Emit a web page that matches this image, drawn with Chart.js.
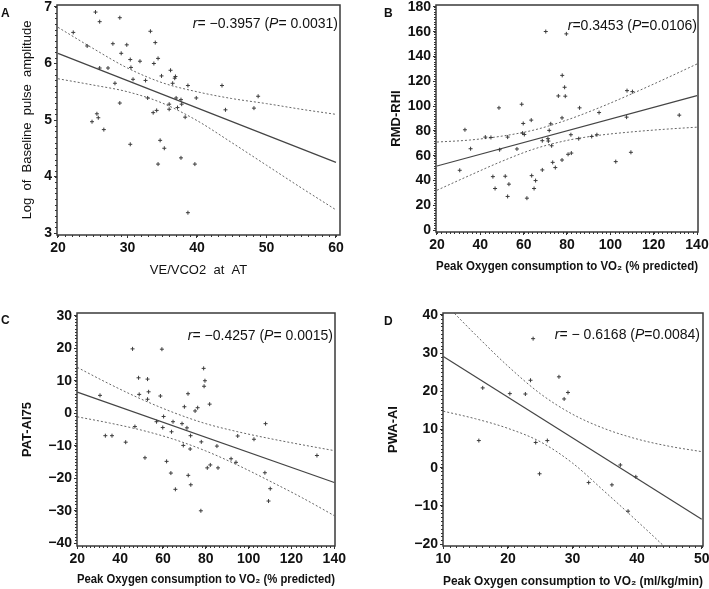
<!DOCTYPE html>
<html>
<head>
<meta charset="utf-8">
<script src="https://cdn.jsdelivr.net/npm/chart.js@4.4.1/dist/chart.umd.min.js"></script>
<style>
  body { margin: 0; background: #fff; }
  #fig { position: relative; width: 709px; height: 589px; background: #fff; overflow: hidden;
         font-family: "Liberation Sans", Arial, Helvetica, sans-serif; color: #111; }
  #fig canvas { position: absolute; }
  .tag { position: absolute; font-size: 12px; font-weight: bold; line-height: 1; }
  .stat { position: absolute; font-size: 14px; line-height: 1; white-space: nowrap; }
</style>
</head>
<body>
<div id="fig">
  <canvas id="panelA" width="354" height="290" style="left:0;top:0"></canvas>
  <canvas id="panelB" width="355" height="290" style="left:354px;top:0"></canvas>
  <canvas id="panelC" width="354" height="299" style="left:0;top:290px"></canvas>
  <canvas id="panelD" width="355" height="299" style="left:354px;top:290px"></canvas>

  <div class="tag" style="left:1px;top:7px">A</div>
  <div class="tag" style="left:384px;top:7px">B</div>
  <div class="tag" style="left:1px;top:314px">C</div>
  <div class="tag" style="left:384px;top:315px">D</div>

  <div class="stat" style="right:371px;top:16px"><i>r</i>= −0.3957 (<i>P</i>= 0.0031)</div>
  <div class="stat" style="right:12px;top:18px"><i>r</i>=0.3453 (<i>P</i>=0.0106)</div>
  <div class="stat" style="right:376px;top:328px"><i>r</i>= −0.4257 (<i>P</i>= 0.0015)</div>
  <div class="stat" style="right:9px;top:327px"><i>r</i>= − 0.6168 (<i>P</i>=0.0084)</div>
</div>

<script>
// ---- panel A: log baseline pulse amplitude vs VE/VCO2 at AT
const aX = [25.4, 26.0, 28.9, 22.2, 33.3, 34.0, 24.2, 27.9, 29.9, 29.1, 34.4, 30.4, 31.8, 33.8, 30.5, 26.0, 27.2, 36.2,
  34.9, 36.9, 36.8, 32.6, 30.8, 36.5, 28.2, 38.7, 43.6, 48.8, 39.9, 32.9, 37.0, 37.7, 28.9, 36.0, 37.8, 37.2, 48.2,
  44.1, 36.0, 34.2, 33.7, 25.6, 25.8, 24.9, 38.3, 26.6, 34.7, 30.4, 35.3, 37.7, 34.4, 39.7, 38.7];
const aY = [6.91, 6.74, 6.81, 6.55, 6.57, 6.37, 6.31, 6.35, 6.33, 6.18, 6.09, 6.07, 6.04, 6.00, 5.93, 5.92, 5.92, 5.88,
  5.78, 5.77, 5.74, 5.70, 5.72, 5.65, 5.65, 5.61, 5.61, 5.42, 5.39, 5.39, 5.39, 5.36, 5.30, 5.28, 5.28, 5.22, 5.21,
  5.18, 5.19, 5.17, 5.13, 5.11, 5.04, 4.97, 5.05, 4.83, 4.64, 4.57, 4.50, 4.33, 4.22, 4.22, 3.36];
const aFitX = [20, 60];
const aFitY = [6.18, 4.25];
const aBandX = [20, 25, 30, 35, 40, 45, 50, 55, 60];
const aUpper = [6.64, 6.27, 5.92, 5.66, 5.50, 5.38, 5.29, 5.19, 5.10];
const aLower = [5.73, 5.62, 5.50, 5.30, 4.99, 4.60, 4.20, 3.80, 3.41];
const aXTicks = [20, 30, 40, 50, 60];
const aYTicks = [3, 4, 5, 6, 7];

// ---- panel B: RMD-RHI vs peak VO2 (% predicted)
const bX = [70.2, 79.7, 77.8, 78.9, 76.0, 79.2, 107.7, 110.2, 59.1, 48.6, 85.8, 94.8, 131.8, 77.7, 107.5, 63.5, 59.8,
  72.5, 32.9, 71.8, 59.5, 60.3, 81.8, 93.8, 42.3, 44.9, 52.6, 91.4, 71.2, 85.4, 68.6, 71.4, 72.9, 35.5, 48.9, 56.9,
  80.5, 82.0, 109.5, 73.4, 77.7, 102.5, 30.5, 68.6, 74.6, 45.8, 51.5, 63.7, 65.5, 53.2, 46.8, 64.8, 52.6, 61.5];
const bY = [160.2, 158.3, 124.8, 115.2, 108.2, 108.0, 112.5, 111.7, 101.5, 98.6, 98.6, 94.8, 92.7, 90.5, 91.1, 88.7,
  86.0, 85.7, 80.9, 80.4, 78.2, 77.1, 76.9, 76.9, 75.0, 74.7, 75.0, 75.5, 73.7, 73.7, 72.1, 71.8, 68.0, 65.6, 64.8,
  65.4, 61.1, 62.1, 62.7, 54.6, 56.5, 55.2, 48.2, 48.5, 50.4, 43.1, 43.4, 43.9, 39.9, 37.0, 33.5, 33.5, 27.1, 25.7];
const bFitX = [20, 140];
const bFitY = [51.7, 108.5];
const bBandX = [20, 35, 50, 65, 80, 95, 110, 125, 140];
const bUpper = [71.0, 72.6, 75.8, 80.8, 88.8, 98.8, 110.0, 121.8, 134.0];
const bLower = [32.1, 44.0, 55.5, 65.5, 72.3, 76.5, 79.2, 81.3, 83.0];
const bXTicks = [20, 40, 60, 80, 100, 120, 140];
const bYTicks = [0, 20, 40, 60, 80, 100, 120, 140, 160, 180];

// ---- panel C: PAT-AI75 vs peak VO2 (% predicted)
const cX = [45.8, 59.5, 79.0, 48.6, 52.8, 79.6, 79.2, 53.3, 71.7, 48.9, 30.6, 58.8, 52.8, 81.8, 70.0, 76.2, 75.0, 60.3,
  57.0, 64.7, 68.9, 107.9, 46.9, 59.9, 71.2, 64.0, 72.9, 33.1, 36.2, 94.9, 102.5, 42.6, 77.9, 69.5, 85.2, 72.7, 51.6,
  131.9, 91.8, 94.1, 61.7, 82.1, 80.7, 85.7, 63.7, 107.6, 71.8, 73.0, 110.1, 65.8, 109.3, 77.7];
const cY = [19.8, 19.7, 13.8, 10.9, 10.5, 10.0, 8.3, 6.6, 6.0, 5.8, 5.5, 5.3, 4.3, 2.8, 2.0, 1.7, 0.7, -1.0, -2.6, -2.6,
  -3.2, -3.2, -4.1, -4.4, -4.5, -5.7, -6.9, -6.9, -6.9, -7.0, -8.0, -8.9, -8.8, -9.9, -10.1, -11.0, -13.7, -13.0,
  -14.0, -15.1, -14.8, -15.9, -16.8, -16.8, -18.4, -18.3, -19.1, -22.0, -23.2, -23.4, -27.0, -30.0];
const cFitX = [20, 140];
const cFitY = [6.5, -21.3];
const cBandX = [20, 35, 50, 65, 80, 95, 110, 125, 140];
const cUpper = [14.1, 9.0, 4.3, 0.2, -3.2, -5.7, -7.8, -9.7, -11.5];
const cLower = [-1.1, -3.0, -5.2, -8.0, -11.6, -16.0, -20.9, -26.0, -31.5];
const cXTicks = [20, 40, 60, 80, 100, 120, 140];
const cYTicks = [-40, -30, -20, -10, 0, 10, 20, 30];

// ---- panel D: PWA-AI vs peak VO2 (ml/kg/min)
const dX = [23.9, 27.9, 23.5, 16.1, 29.3, 20.3, 22.7, 28.7, 15.5, 26.1, 24.3, 37.4, 39.8, 24.9, 32.5, 36.1, 38.6];
const dY = [33.8, 23.8, 22.9, 20.9, 19.7, 19.4, 19.3, 18.0, 7.1, 7.1, 6.6, 0.7, -2.4, -1.6, -3.9, -4.5, -11.4];
const dFitX = [10, 50];
const dFitY = [29.1, -13.5];
const dBandX = [10, 15, 20, 25, 30, 35, 40, 45, 50];
const dUpper = [43.4, 34.8, 26.6, 19.4, 14.0, 10.2, 7.5, 5.6, 4.2];
const dLower = [14.8, 12.8, 10.3, 6.8, 1.2, -6.3, -14.0, -22.0, -31.0];
const dXTicks = [10, 20, 30, 40, 50];
const dYTicks = [-20, -10, 0, 10, 20, 30, 40];

const FONT = '"Liberation Sans", Arial, Helvetica, sans-serif';
Chart.defaults.font.family = FONT;
Chart.defaults.color = '#111';

const pts = (xs, ys) => xs.map((x, i) => ({ x: x, y: ys[i] }));
const fmt = (v) => (v < 0 ? '\u2212' + Math.abs(v) : String(v));

// box round the plot area plus the small minor ticks SAS puts on the axes
const frame = {
  id: 'frame',
  afterDraw(chart, args, opts) {
    const { ctx, chartArea: a, scales } = chart;
    ctx.save();
    ctx.strokeStyle = '#333';
    ctx.lineWidth = 1;
    ctx.beginPath();
    const xt = scales.x.ticks.map((t) => t.value);
    const yt = scales.y.ticks.map((t) => t.value);
    const nx = Math.round((xt[xt.length - 1] - xt[0]) / opts.x);
    for (let i = 0; i <= nx; i++) {
      const px = Math.round(scales.x.getPixelForValue(xt[0] + i * opts.x)) + 0.5;
      ctx.moveTo(px, a.bottom);
      ctx.lineTo(px, a.bottom + 2);
    }
    const ny = Math.round((yt[yt.length - 1] - yt[0]) / opts.y);
    for (let i = 0; i <= ny; i++) {
      const py = Math.round(scales.y.getPixelForValue(yt[0] + i * opts.y)) + 0.5;
      ctx.moveTo(a.left, py);
      ctx.lineTo(a.left - 2, py);
    }
    ctx.stroke();
    ctx.lineWidth = 1.5;
    ctx.strokeStyle = '#3a3a3a';
    ctx.strokeRect(a.left, a.top, a.right - a.left, a.bottom - a.top);
    ctx.restore();
  },
};

function panel(id, o) {
  return new Chart(document.getElementById(id), {
    type: 'scatter',
    data: {
      datasets: [
        {
          data: pts(o.x, o.y),
          pointStyle: 'cross',
          pointRadius: 2,
          borderColor: '#3c3c3c',
          borderWidth: 1,
        },
        {
          data: pts(o.fitX, o.fitY),
          showLine: true,
          borderColor: '#444',
          borderWidth: 1.2,
          pointRadius: 0,
        },
        {
          data: pts(o.bandX, o.upper),
          showLine: true,
          borderColor: '#666',
          borderWidth: 1,
          borderDash: [2, 2],
          pointRadius: 0,
          cubicInterpolationMode: 'monotone',
        },
        {
          data: pts(o.bandX, o.lower),
          showLine: true,
          borderColor: '#666',
          borderWidth: 1,
          borderDash: [2, 2],
          pointRadius: 0,
          cubicInterpolationMode: 'monotone',
        },
      ],
    },
    options: {
      responsive: false,
      animation: false,
      events: [],
      layout: { padding: o.pad },
      plugins: {
        legend: { display: false },
        tooltip: { enabled: false },
        frame: { x: o.minorX, y: o.minorY },
      },
      scales: {
        x: {
          type: 'linear',
          min: o.xMin,
          max: o.xMax,
          afterBuildTicks: (s) => { s.ticks = o.xTicks.map((v) => ({ value: v })); },
          afterFit: (s) => { s.height = o.xH; s.paddingLeft = 0; s.paddingRight = 0; },
          grid: { drawOnChartArea: false, tickLength: 3, color: '#333' },
          border: { display: false },
          ticks: {
            autoSkip: false,
            maxRotation: 0,
            padding: 2,
            color: '#111',
            font: { size: 14, weight: 'bold' },
            callback: fmt,
          },
          title: {
            display: true,
            text: o.xTitle,
            color: '#111',
            font: o.xFont,
            padding: { top: 0, bottom: o.xTitlePad },
          },
        },
        y: {
          type: 'linear',
          min: o.yMin,
          max: o.yMax,
          afterBuildTicks: (s) => { s.ticks = o.yTicks.map((v) => ({ value: v })); },
          afterFit: (s) => { s.width = o.yW; s.paddingTop = 0; s.paddingBottom = 0; },
          grid: { drawOnChartArea: false, tickLength: 3, color: '#333' },
          border: { display: false },
          ticks: {
            autoSkip: false,
            padding: 2,
            color: '#111',
            font: { size: 14, weight: 'bold' },
            callback: fmt,
          },
          title: {
            display: true,
            text: o.yTitle,
            color: '#111',
            font: o.yFont,
            padding: { top: o.yTitlePad, bottom: 0 },
          },
        },
      },
    },
    plugins: [frame],
  });
}

const bold13 = { size: 13, weight: 'bold' };
const bold125 = { size: 12.5, weight: 'bold' };
const plain13 = { size: 13, weight: 'normal' };

window.addEventListener('load', () => {
  panel('panelA', {
    x: aX, y: aY, fitX: aFitX, fitY: aFitY, bandX: aBandX, upper: aUpper, lower: aLower,
    xTicks: aXTicks, yTicks: aYTicks, minorX: 1, minorY: 0.1,
    xMin: 19.86, xMax: 60.58, yMin: 2.965, yMax: 7.035,
    pad: { left: 0, top: 1, right: 14, bottom: 0 }, yW: 57, xH: 55,
    xTitle: 'VE/VCO2  at  AT', xFont: plain13, xTitlePad: 12,
    yTitle: 'Log  of  Baseline  pulse  amplitude', yFont: plain13, yTitlePad: 20,
  });
  panel('panelB', {
    x: bX, y: bY, fitX: bFitX, fitY: bFitY, bandX: bBandX, upper: bUpper, lower: bLower,
    xTicks: bXTicks, yTicks: bYTicks, minorX: 2, minorY: 2,
    xMin: 19.54, xMax: 140.46, yMin: -1.6, yMax: 181.6,
    pad: { left: 0, top: 4, right: 11, bottom: 0 }, yW: 82, xH: 58,
    xTitle: 'Peak Oxygen consumption to VO\u2082 (% predicted)', xFont: bold125, xTitlePad: 16,
    yTitle: 'RMD-RHI', yFont: bold13, yTitlePad: 35,
  });
  panel('panelC', {
    x: cX, y: cY, fitX: cFitX, fitY: cFitY, bandX: cBandX, upper: cUpper, lower: cLower,
    xTicks: cXTicks, yTicks: cYTicks, minorX: 2, minorY: 1,
    xMin: 19.86, xMax: 140.33, yMin: -40.83, yMax: 30.83,
    pad: { left: 0, top: 23, right: 19, bottom: 0 }, yW: 77, xH: 43,
    xTitle: 'Peak Oxygen consumption to VO\u2082 (% predicted)', xFont: bold125, xTitlePad: 2,
    yTitle: 'PAT-AI75', yFont: bold13, yTitlePad: 20,
  });
  panel('panelD', {
    x: dX, y: dY, fitX: dFitX, fitY: dFitY, bandX: dBandX, upper: dUpper, lower: dLower,
    xTicks: dXTicks, yTicks: dYTicks, minorX: 1, minorY: 1,
    xMin: 9.95, xMax: 50.2, yMin: -20.52, yMax: 40.52,
    pad: { left: 0, top: 23, right: 6, bottom: 0 }, yW: 89, xH: 43,
    xTitle: 'Peak Oxygen consumption to VO\u2082 (ml/kg/min)', xFont: bold125, xTitlePad: 0,
    yTitle: 'PWA-AI', yFont: bold13, yTitlePad: 32,
  });
});
</script>
</body>
</html>
